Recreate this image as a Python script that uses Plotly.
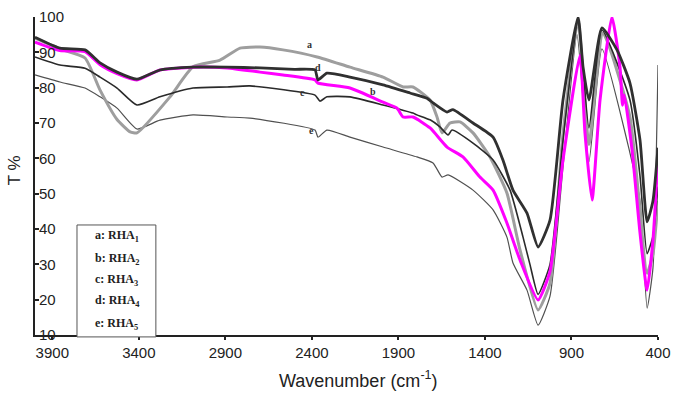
import plotly.graph_objects as go

# ---- data ----
wn_a = [4000, 3856, 3711, 3624, 3526, 3450, 3411, 3220, 3087, 2931, 2815, 2700, 2567, 2370, 2180, 1989, 1873, 1816, 1717, 1677, 1648, 1602, 1544, 1469, 1371, 1273, 1197, 1093, 1024, 949, 862, 799, 718, 562, 463, 429, 400]
t_a = [94.0, 91.0, 88.4, 79.3, 71.0, 67.5, 67.2, 77.4, 85.9, 87.8, 91.2, 91.5, 90.7, 88.7, 85.8, 83.0, 80.2, 80.2, 76.5, 71.7, 67.2, 70.0, 70.3, 67.2, 60.4, 50.2, 34.0, 17.1, 24.7, 67.0, 99.0, 64.0, 95.5, 71.7, 27.5, 33.0, 48.0]

wn_b = [4000, 3856, 3711, 3624, 3526, 3411, 3278, 3087, 2890, 2700, 2567, 2382, 2365, 2180, 1989, 1908, 1873, 1816, 1717, 1619, 1527, 1429, 1353, 1273, 1197, 1093, 1024, 949, 851, 822, 781, 735, 666, 620, 605, 595, 550, 504, 463, 429, 400]
t_b = [92.9, 90.5, 90.2, 86.5, 84.0, 82.2, 85.0, 85.8, 85.6, 84.4, 83.6, 82.2, 81.3, 79.9, 75.9, 74.2, 71.7, 71.7, 68.6, 63.2, 60.4, 54.7, 51.0, 41.7, 31.2, 19.9, 28.0, 59.5, 89.2, 67.2, 48.2, 76.5, 100.0, 86.0, 75.0, 78.0, 62.4, 38.9, 22.7, 36.9, 60.4]

wn_c = [4000, 3856, 3711, 3624, 3526, 3411, 3278, 3087, 2890, 2758, 2382, 2353, 2313, 2180, 1989, 1816, 1793, 1717, 1660, 1613, 1590, 1469, 1353, 1255, 1180, 1140, 1093, 1024, 949, 862, 799, 724, 562, 504, 463, 429, 400]
t_c = [88.7, 86.4, 85.5, 83.0, 79.9, 75.1, 77.4, 79.9, 80.2, 80.5, 77.9, 76.2, 77.4, 77.4, 75.1, 72.8, 72.3, 70.9, 68.9, 66.6, 68.0, 64.3, 59.5, 51.0, 37.7, 30.0, 21.5, 30.0, 65.0, 99.0, 68.6, 96.3, 76.5, 55.0, 33.0, 38.0, 52.0]

wn_d = [4000, 3856, 3711, 3624, 3526, 3411, 3278, 3087, 2890, 2700, 2500, 2382, 2365, 2313, 2180, 1989, 1833, 1735, 1700, 1619, 1585, 1469, 1353, 1296, 1238, 1157, 1093, 1024, 949, 862, 833, 799, 724, 637, 562, 504, 463, 429, 400]
t_d = [94.3, 91.2, 90.7, 87.0, 84.4, 82.4, 85.0, 85.8, 85.8, 85.6, 85.2, 85.0, 82.2, 84.1, 83.0, 80.8, 78.5, 77.0, 75.7, 73.1, 73.8, 70.0, 66.0, 59.5, 51.0, 44.5, 34.9, 42.5, 76.5, 100.0, 85.8, 76.5, 96.9, 90.7, 81.3, 65.2, 42.0, 48.0, 63.0]

wn_e = [4000, 3856, 3711, 3624, 3526, 3411, 3278, 3087, 2890, 2758, 2382, 2365, 2313, 2180, 1989, 1793, 1700, 1648, 1613, 1469, 1353, 1273, 1238, 1157, 1093, 1024, 949, 868, 799, 724, 562, 504, 463, 429, 400]
t_e = [83.6, 81.6, 79.9, 77.4, 74.2, 68.3, 70.8, 72.3, 71.7, 71.4, 68.0, 66.0, 68.0, 66.0, 63.2, 60.4, 58.7, 54.7, 55.3, 51.0, 45.4, 37.7, 30.4, 22.7, 12.8, 21.0, 57.5, 95.0, 59.0, 91.0, 61.5, 48.0, 17.6, 29.0, 86.4]

x_ticks = [3900, 3400, 2900, 2400, 1900, 1400, 900, 400]
y_ticks = [10, 20, 30, 40, 50, 60, 70, 80, 90, 100]

legend_lines = ["a: RHA<sub>1</sub>", "b: RHA<sub>2</sub>", "c: RHA<sub>3</sub>",
                "d: RHA<sub>4</sub>", "e: RHA<sub>5</sub>"]
curve_letters = ["a", "d", "c", "b", "e"]
curve_label_wn = [2411, 2365, 2457, 2047, 2405]
curve_label_t = [92.1, 85.6, 78.5, 78.8, 68.0]

fig = go.Figure()

series = [
    (wn_e, t_e, "#505050", 1.2),
    (wn_a, t_a, "#9e9e9e", 3.0),
    (wn_c, t_c, "#2a2a2a", 1.6),
    (wn_b, t_b, "#ff00ff", 3.0),
    (wn_d, t_d, "#303030", 2.8),
]
for xs, ys, col, w in series:
    fig.add_trace(go.Scatter(x=xs, y=ys, mode="lines",
                             line=dict(color=col, width=w, shape="spline", smoothing=0.5),
                             showlegend=False, hoverinfo="skip"))

# curve letters
for L, xw, yt in zip(curve_letters, curve_label_wn, curve_label_t):
    fig.add_annotation(x=xw, y=yt, text="<b>%s</b>" % L, showarrow=False,
                       font=dict(family="Liberation Serif", size=10, color="#333"),
                       xref="x", yref="y")

# legend box
fig.add_shape(type="rect", xref="paper", yref="paper", x0=0.0674, x1=0.194,
              y0=-0.006, y1=0.346, line=dict(color="#555", width=1), fillcolor="white")
leg_y = [0.3145, 0.245, 0.176, 0.110, 0.0377]
for txt, yy in zip(legend_lines, leg_y):
    fig.add_annotation(x=0.093, y=yy - 0.036, xref="paper", yref="paper", text="<b>%s</b>" % txt,
                       xanchor="left", showarrow=False,
                       font=dict(family="Liberation Serif", size=12, color="#222"))

# axis titles
fig.add_annotation(x=-0.05, y=0.519, xref="paper", yref="paper", text="T %",
                   textangle=-90, showarrow=False,
                   font=dict(family="Liberation Sans", size=17, color="#222"))
fig.add_annotation(x=0.52, y=-0.182, xref="paper", yref="paper",
                   text="Wavenumber (cm<sup>-1</sup>)", showarrow=False,
                   font=dict(family="Liberation Sans", size=18, color="#222"))

fig.update_layout(
    width=675, height=393,
    margin=dict(l=35, r=17, t=17, b=58),
    paper_bgcolor="white", plot_bgcolor="white",
    xaxis=dict(range=[4000, 400], tickvals=x_ticks, ticktext=[str(v) for v in x_ticks],
               showgrid=False, zeroline=False, showline=True, linecolor="#222", linewidth=2,
               ticks="outside", ticklen=3, tickcolor="#222", tickwidth=1.5,
               automargin=False, ticklabeloverflow="allow",
               tickfont=dict(family="Liberation Sans", size=15, color="#222")),
    yaxis=dict(range=[10, 100], tickvals=y_ticks, showgrid=False, zeroline=False,
               showline=True, linecolor="#222", linewidth=2,
               ticks="inside", ticklen=4, tickcolor="#222", tickwidth=1.5,
               ticklabelposition="inside", automargin=False, ticklabeloverflow="allow",
               tickfont=dict(family="Liberation Sans", size=15, color="#222")),
)

fig.write_html("out.html")
